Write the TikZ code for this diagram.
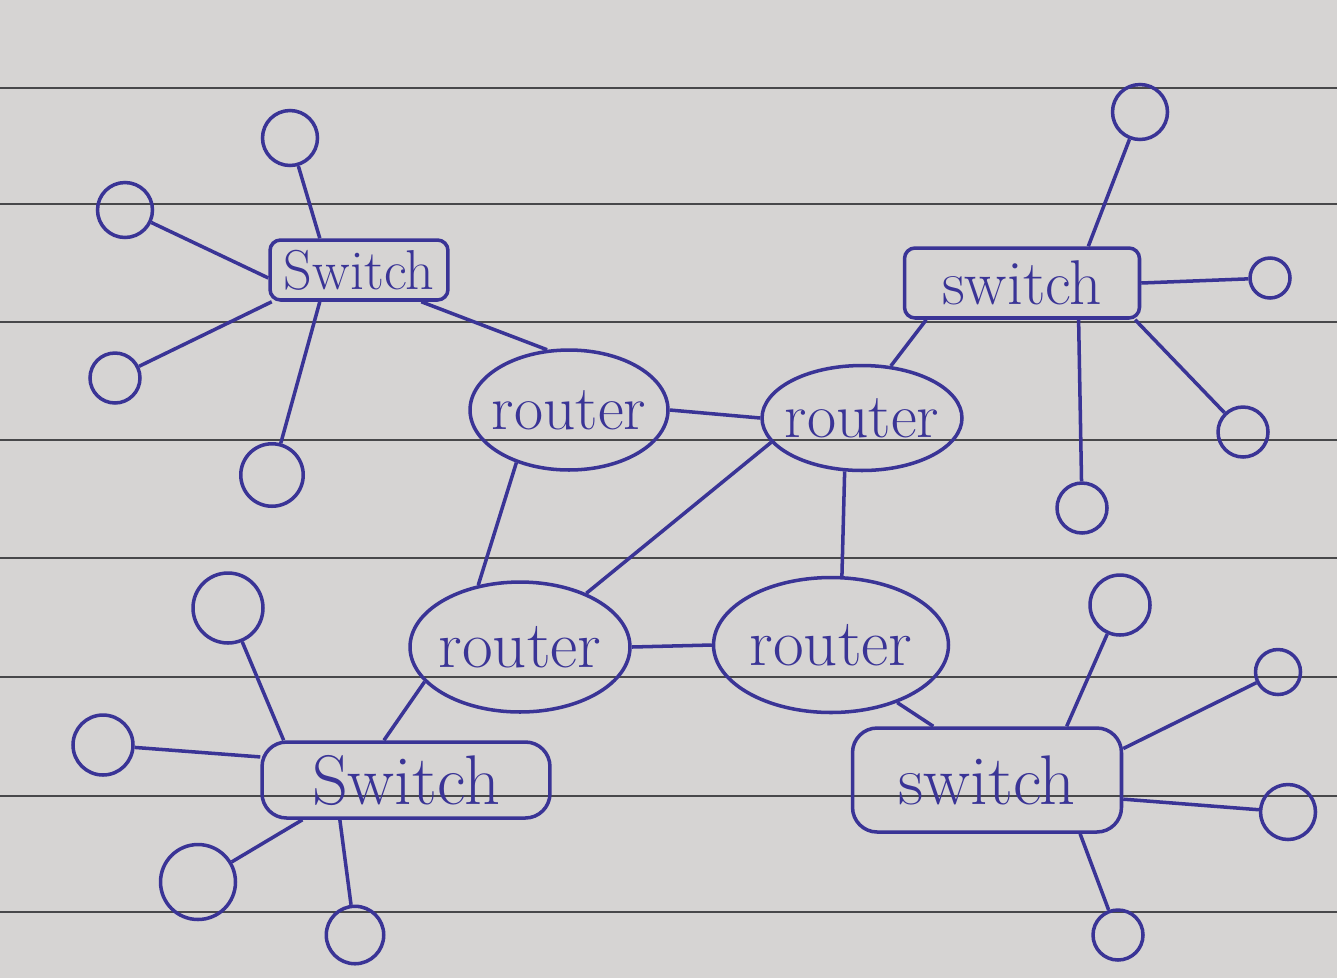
\documentclass[tikz,border=0pt]{standalone}
\usetikzlibrary{shapes.geometric, positioning}
\definecolor{ink}{RGB}{58,52,150}
\definecolor{paper}{RGB}{214,212,211}
\definecolor{ruling}{RGB}{72,72,74}

\begin{document}
\begin{tikzpicture}[x=0.02cm, y=-0.02cm,
	host/.style={draw=ink, circle, line width=2pt, inner sep=0pt},
	switchbox/.style={draw=ink, rectangle, rounded corners=6pt, line width=2pt, text=ink, inner sep=0pt},
	routernode/.style={draw=ink, ellipse, line width=2pt, text=ink, inner sep=0pt},
	link/.style={draw=ink, line width=2pt}]

	% the sheet of ruled paper
	\fill[paper] (0,0) rectangle (1337,978);
	\useasboundingbox (0,0) rectangle (1337,978);
	\foreach \y in {88,204,322,440,558,677,796,912}
		\draw[ruling, line width=1.2pt] (0,\y) -- (1337,\y);

	% switches
	\node[switchbox, minimum width=3.56cm, minimum height=1.2cm, font=\fontsize{32}{36}\selectfont] (sw1) at (359,270) {Switch};
	\node[switchbox, minimum width=4.7cm, minimum height=1.4cm, font=\fontsize{36}{40}\selectfont] (sw2) at (1022,283) {switch};
	\node[switchbox, minimum width=5.76cm, minimum height=1.52cm, rounded corners=14pt, font=\fontsize{40}{44}\selectfont] (sw3) at (406,780) {Switch};
	\node[switchbox, minimum width=5.38cm, minimum height=2.08cm, rounded corners=14pt, font=\fontsize{40}{44}\selectfont] (sw4) at (987,780) {switch};

	% routers, text kept at zero width so the ellipse keeps its size
	\node[routernode, minimum width=3.96cm, minimum height=2.4cm, font=\fontsize{36}{40}\selectfont] (r1) at (569,410) {\makebox[0pt]{router}};
	\node[routernode, minimum width=4.0cm, minimum height=2.1cm, font=\fontsize{36}{40}\selectfont] (r2) at (862,418) {\makebox[0pt]{router}};
	\node[routernode, minimum width=4.4cm, minimum height=2.6cm, font=\fontsize{38}{42}\selectfont] (r3) at (520,647) {\makebox[0pt]{router}};
	\node[routernode, minimum width=4.7cm, minimum height=2.7cm, font=\fontsize{38}{42}\selectfont] (r4) at (831,645) {\makebox[0pt]{router}};

	% hosts round each switch
	\node[host, minimum size=1.1cm] (h1) at (290,138) {};
	\node[host, minimum size=1.1cm] (h2) at (125,210) {};
	\node[host, minimum size=1.0cm] (h3) at (115,378) {};
	\node[host, minimum size=1.25cm] (h4) at (272,475) {};
	\node[host, minimum size=1.1cm] (h5) at (1140,112) {};
	\node[host, minimum size=0.8cm] (h6) at (1270,278) {};
	\node[host, minimum size=1.0cm] (h7) at (1243,432) {};
	\node[host, minimum size=1.0cm] (h8) at (1082,508) {};
	\node[host, minimum size=1.4cm] (h9) at (228,608) {};
	\node[host, minimum size=1.2cm] (h10) at (103,745) {};
	\node[host, minimum size=1.5cm] (h11) at (198,882) {};
	\node[host, minimum size=1.15cm] (h12) at (355,935) {};
	\node[host, minimum size=1.2cm] (h13) at (1120,605) {};
	\node[host, minimum size=0.9cm] (h14) at (1278,672) {};
	\node[host, minimum size=1.1cm] (h15) at (1288,812) {};
	\node[host, minimum size=1.0cm] (h16) at (1118,935) {};

	% host links
	\draw[link] (sw1.141) -- (h1);
	\draw[link] (sw1.185) -- (h2);
	\draw[link] (sw1.200) -- (h3);
	\draw[link] (sw1.219) -- (h4);
	\draw[link] (sw2.29) -- (h5);
	\draw[link] (sw2.east) -- (h6);
	\draw[link] (sw2.342) -- (h7);
	\draw[link] (sw2.327) -- (h8);
	\draw[link] (sw3.162) -- (h9);
	\draw[link] (sw3.171) -- (h10);
	\draw[link] (sw3.201) -- (h11);
	\draw[link] (sw3.211) -- (h12);
	\draw[link] (sw4.34) -- (h13);
	\draw[link] (sw4.13) -- (h14);
	\draw[link] (sw4.352) -- (h15);
	\draw[link] (sw4.330) -- (h16);

	% router links
	\draw[link] (sw1.333) -- (r1.110);
	\draw[link] (r1.east) -- (r2.west);
	\draw[link] (r1.225) -- (r3.124);
	\draw[link] (r2.195) -- (r3.39);
	\draw[link] (r2.252) -- (r4.81);
	\draw[link] (r3.east) -- (r4.west);
	\draw[link] (r3.200) -- (sw3.119);
	\draw[link] (r4.319) -- (sw4.135);
	\draw[link] (r2.61) -- (sw2.201);

\end{tikzpicture}
\end{document}
